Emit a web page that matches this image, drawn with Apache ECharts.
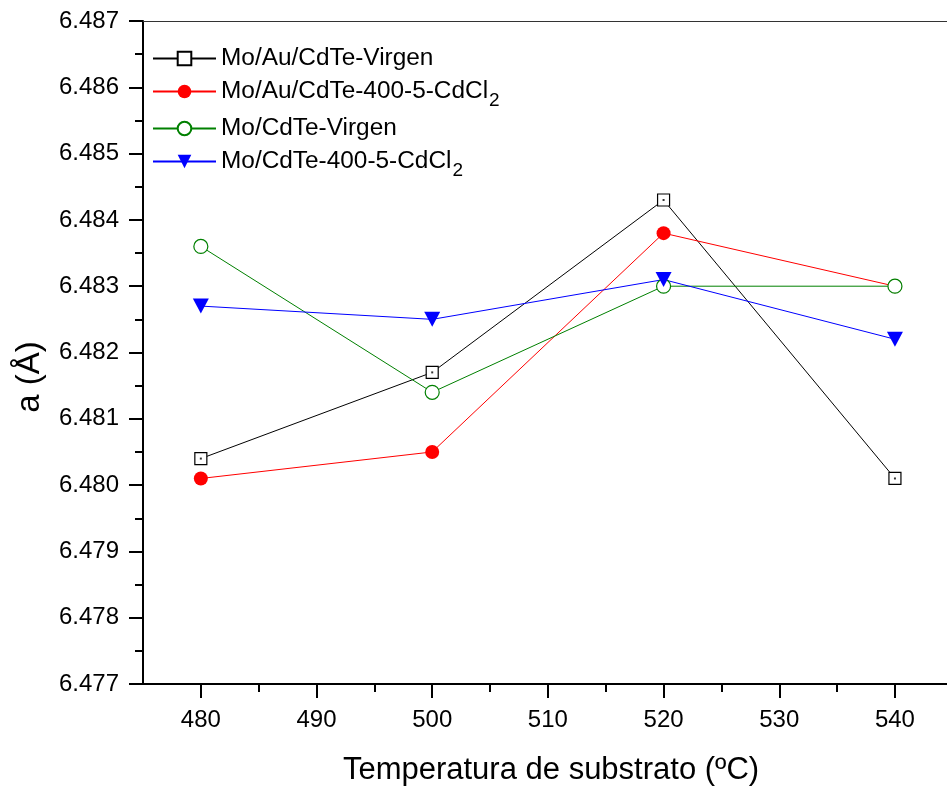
<!DOCTYPE html>
<html><head><meta charset="utf-8">
<script src="https://cdn.jsdelivr.net/npm/echarts@6/dist/echarts.min.js"></script>
<style>html,body{margin:0;padding:0;background:#fff}#c{width:947px;height:791px}</style>
</head><body><div id="c"></div>
<script>
const temps = [480, 500, 520, 540];
const auVirgen = [6.4804, 6.4817, 6.4843, 6.4801];
const auCdCl2 = [6.4801, 6.4805, 6.4838, 6.4830];
const moVirgen = [6.4836, 6.4814, 6.4830, 6.4830];
const moCdCl2 = [6.4827, 6.4825, 6.4831, 6.4822];
const seriesNames = ['Mo/Au/CdTe-Virgen', 'Mo/Au/CdTe-400-5-CdCl2', 'Mo/CdTe-Virgen', 'Mo/CdTe-400-5-CdCl2'];
const xMajorTicks = [480, 490, 500, 510, 520, 530, 540];
const xMinorTicks = [485, 495, 505, 515, 525, 535];
const yTitle = 'a (Å)';
const xTitle = 'Temperatura de substrato (ºC)';

const FONT = '"Liberation Sans", Arial, sans-serif';
const pairs = v => temps.map((t, i) => [t, v[i]]);

const chart = echarts.init(document.getElementById('c'), null, {renderer: 'canvas'});

function legendFor(name, top) {
  return {
    data: [name], left: 152, top: top, padding: 0, itemWidth: 63, itemHeight: 17,
    itemGap: 0, selectedMode: false,
    textStyle: {fontFamily: FONT, fontSize: 24, color: '#000',
      rich: {
        a: {fontFamily: FONT, fontSize: 24.4, color: '#000', lineHeight: 38},
        s: {fontFamily: FONT, fontSize: 19, color: '#000', lineHeight: 18, verticalAlign: 'bottom', padding: [0, 0, 0, 1]}
      }},
    formatter: n => n.endsWith('CdCl2') ? '{a|' + n.slice(0, -1) + '}{s|2}' : '{a|' + n + '}'
  };
}

const option = {
  animation: false,
  backgroundColor: '#fff',
  grid: {left: 143, right: 0, top: 21, bottom: 106, containLabel: false},
  legend: [
    legendFor(seriesNames[0], 46.5),
    legendFor(seriesNames[1], 79.5),
    legendFor(seriesNames[2], 116.5),
    legendFor(seriesNames[3], 149.5)
  ],
  xAxis: [
    {
      type: 'value', min: 475, max: 544.5, position: 'bottom',
      name: xTitle, nameLocation: 'middle', nameGap: 71,
      nameTextStyle: {fontFamily: FONT, fontSize: 31, color: '#000', padding: [0, 0, 0, 12]},
      axisLine: {show: true, onZero: false, lineStyle: {color: '#000', width: 2}},
      axisTick: {show: true, customValues: xMajorTicks, length: 14, lineStyle: {color: '#000', width: 2}},
      axisLabel: {customValues: xMajorTicks, fontFamily: FONT, fontSize: 24, color: '#000', margin: 24},
      splitLine: {show: false}
    },
    {
      type: 'value', min: 475, max: 544.5, position: 'bottom',
      axisLine: {show: false},
      axisTick: {show: true, customValues: xMinorTicks, length: 8, lineStyle: {color: '#000', width: 2}},
      axisLabel: {show: false},
      splitLine: {show: false}
    },
    {
      type: 'value', min: 475, max: 544.5, position: 'top',
      axisLine: {show: true, onZero: false, lineStyle: {color: '#333', width: 1}},
      axisTick: {show: false}, axisLabel: {show: false}, splitLine: {show: false}
    }
  ],
  yAxis: {
    type: 'value', min: 6.477, max: 6.487, interval: 0.001,
    axisLine: {show: true, onZero: false, lineStyle: {color: '#000', width: 2}},
    axisTick: {show: true, length: 14, lineStyle: {color: '#000', width: 2}},
    minorTick: {show: true, splitNumber: 2, length: 8, lineStyle: {color: '#000', width: 2}},
    axisLabel: {fontFamily: FONT, fontSize: 24, color: '#000', margin: 24, formatter: v => v.toFixed(3)},
    splitLine: {show: false}, minorSplitLine: {show: false}
  },
  graphic: [{
    type: 'text', x: 30, y: 377, rotation: Math.PI / 2,
    style: {text: yTitle, fontFamily: FONT, fontSize: 33, fill: '#000', align: 'center', verticalAlign: 'middle'}
  }],
  series: [
    {
      name: seriesNames[0], type: 'line', data: pairs(auVirgen), symbol: 'rect', symbolSize: 12,
      lineStyle: {color: '#000', width: 1}, itemStyle: {color: '#fff', borderColor: '#000', borderWidth: 1.2}, z: 2
    },
    {
      name: seriesNames[1], type: 'line', data: pairs(auCdCl2), symbol: 'circle', symbolSize: 14,
      lineStyle: {color: '#ff0000', width: 1}, itemStyle: {color: '#ff0000', borderColor: '#ff0000', borderWidth: 0}, z: 2
    },
    {
      name: seriesNames[2], type: 'line', data: pairs(moVirgen), symbol: 'circle', symbolSize: 14,
      lineStyle: {color: '#008000', width: 1}, itemStyle: {color: '#fff', borderColor: '#008000', borderWidth: 1.2}, z: 2
    },
    {
      name: seriesNames[3], type: 'line', data: pairs(moCdCl2), symbol: 'triangle', symbolRotate: 180, symbolSize: [16, 15],
      lineStyle: {color: '#0000ff', width: 1}, itemStyle: {color: '#0000ff', borderWidth: 0}, z: 2
    },
    {
      name: 'dot', type: 'scatter', data: pairs(auVirgen), symbol: 'rect', symbolSize: 2,
      itemStyle: {color: '#000'}, silent: true, z: 5
    }
  ]
};
chart.setOption(option);
</script></body></html>
